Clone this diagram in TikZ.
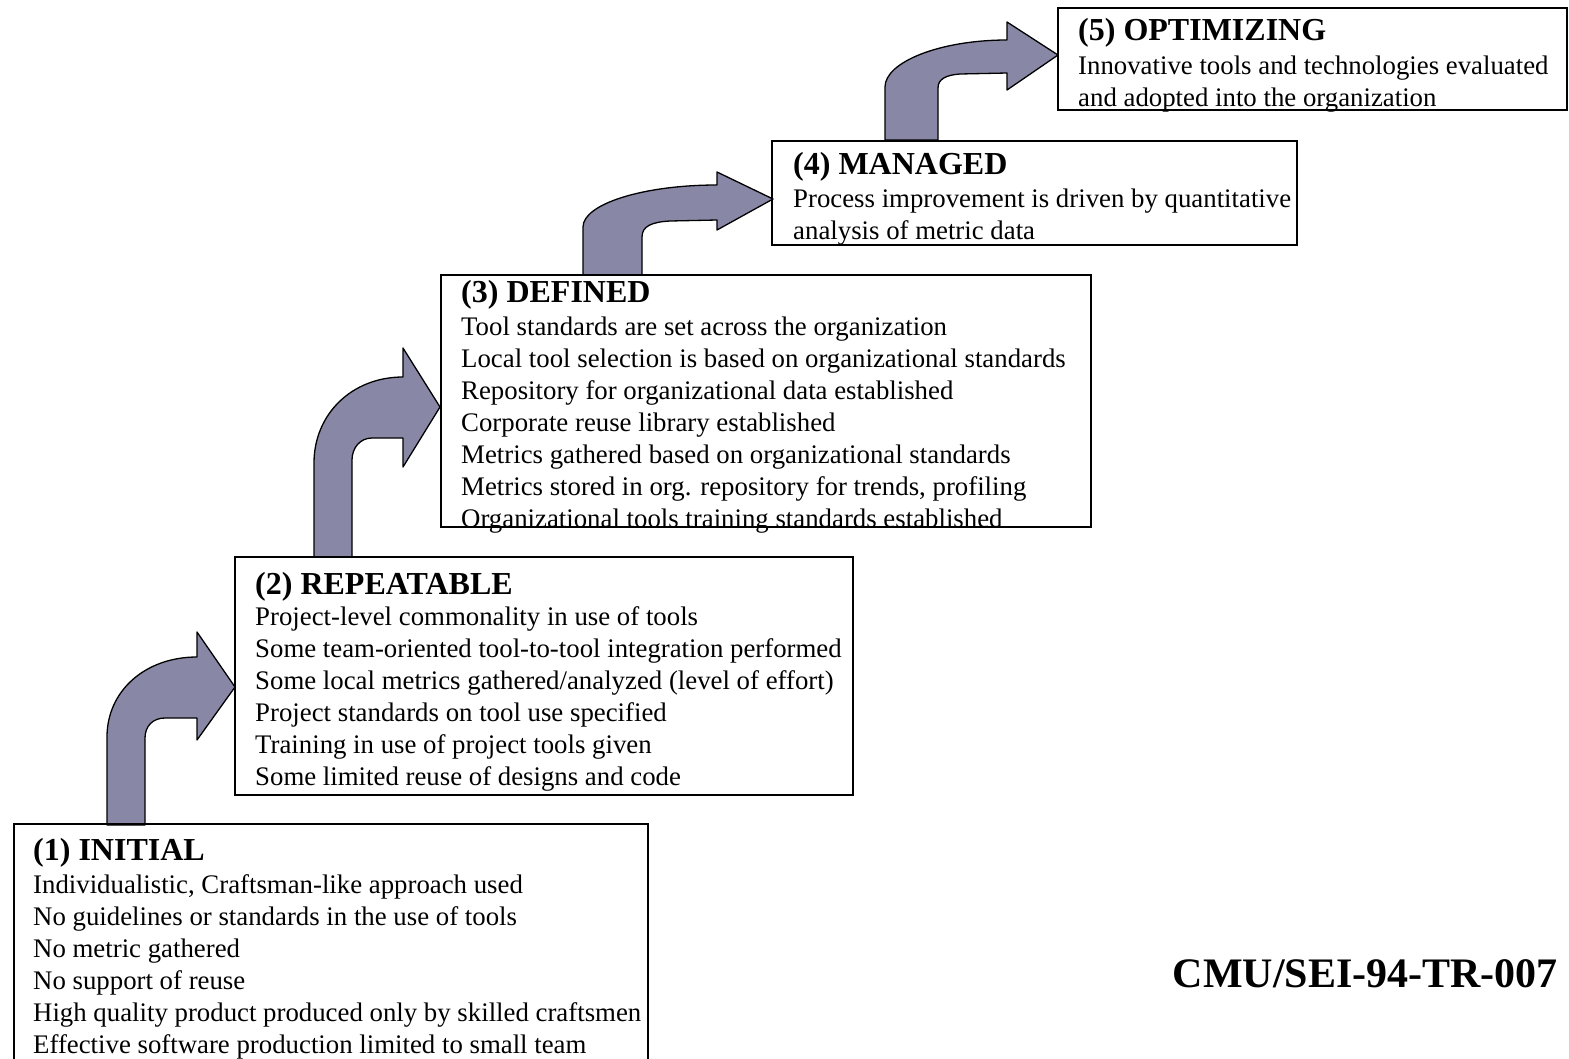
\documentclass[tikz,border=0pt]{standalone}
\usepackage{fontspec}
\setmainfont{Liberation Serif}
\definecolor{arrowfill}{RGB}{136,136,166}
\begin{document}
\begin{tikzpicture}[x=1pt,y=-1pt,
  box/.style={draw, line width=1.6pt, inner sep=0pt, outer sep=0pt, anchor=north west},
  bent/.style={fill=arrowfill, draw=black, line width=1.3pt, line join=round},
  ttl/.style={anchor=base west, inner sep=0pt, font=\fontsize{32}{38}\selectfont\bfseries},
  body/.style={anchor=base west, inner sep=0pt, font=\fontsize{26.8}{32}\selectfont}]
\useasboundingbox (0,0) rectangle (1569,1058);

% bent arrows
\draw[bent] (107,825) -- (107,737) .. controls (107,691) and (145,657) .. (197,657) -- (197,632) -- (235,687) -- (197,740) -- (197,718) -- (165,718) .. controls (153,718) and (145,726) .. (145,738) -- (145,825) -- cycle;
\draw[bent] (314,557) -- (314,463) .. controls (314,414) and (352,377) .. (403,377) -- (403,348) -- (440,407) -- (403,467) -- (403,438) -- (372,438) .. controls (360,438) and (352,448) .. (352,460) -- (352,557) -- cycle;
\draw[bent] (583,275) -- (583,227) .. controls (583,204) and (643,185) .. (717,185) -- (717,172) -- (773,199) -- (717,230) -- (717,220) -- (670,221) .. controls (652,222) and (642,226) .. (642,237) -- (642,275) -- cycle;
\draw[bent] (885,140) -- (885,87) .. controls (885,62) and (940,40) .. (1007,40) -- (1007,22) -- (1058,55) -- (1007,90) -- (1007,73) -- (960,74) .. controls (946,75) and (938,79) .. (938,88) -- (938,140) -- cycle;

% boxes
\draw[line width=1.6pt] (14,1070) -- (14,824) -- (648,824) -- (648,1070);
\node[box, minimum width=618pt, minimum height=238pt] (b2) at (235,557) {};
\node[box, minimum width=650pt, minimum height=252pt] (b3) at (441,275) {};
\node[box, minimum width=525pt, minimum height=104pt] (b4) at (772,141) {};
\node[box, minimum width=509pt, minimum height=102pt] (b5) at (1058,8) {};

% (1) INITIAL
\node[ttl] (t1) at (33,860) {(1) INITIAL};
\node[body] (t1a) at (33,893) {Individualistic, Craftsman-like approach used};
\node[body] (t1b) at (33,925) {No guidelines or standards in the use of tools};
\node[body] (t1c) at (33,957) {No metric gathered};
\node[body] (t1d) at (33,989) {No support of reuse};
\node[body] (t1e) at (33,1021) {High quality product produced only by skilled craftsmen};
\node[body] (t1f) at (33,1053) {Effective software production limited to small team};

% (2) REPEATABLE
\node[ttl] (t2) at (255,594) {(2) REPEATABLE};
\node[body] (t2a) at (255,625) {Project-level commonality in use of tools};
\node[body] (t2b) at (255,657) {Some team-oriented tool-to-tool integration performed};
\node[body] (t2c) at (255,689) {Some local metrics gathered/analyzed (level of effort)};
\node[body] (t2d) at (255,721) {Project standards on tool use specified};
\node[body] (t2e) at (255,753) {Training in use of project tools given};
\node[body] (t2f) at (255,785) {Some limited reuse of designs and code};

% (3) DEFINED
\node[ttl] (t3) at (461,302) {(3) DEFINED};
\node[body] (t3a) at (461,335) {Tool standards are set across the organization};
\node[body] (t3b) at (461,367) {Local tool selection is based on organizational standards};
\node[body] (t3c) at (461,399) {Repository for organizational data established};
\node[body] (t3d) at (461,431) {Corporate reuse library established};
\node[body] (t3e) at (461,463) {Metrics gathered based on organizational standards};
\node[body] (t3f) at (461,495) {Metrics stored in org. repository for trends, profiling};
\node[body] (t3g) at (461,527) {Organizational tools training standards established};

% (4) MANAGED
\node[ttl] (t4) at (793,174) {(4) MANAGED};
\node[body] (t4a) at (793,207) {Process improvement is driven by quantitative};
\node[body] (t4b) at (793,239) {analysis of metric data};

% (5) OPTIMIZING
\node[ttl] (t5) at (1078,40) {(5) OPTIMIZING};
\node[body] (t5a) at (1078,74) {Innovative tools and technologies evaluated};
\node[body] (t5b) at (1078,106) {and adopted into the organization};

% report id
\node[anchor=base east, inner sep=0pt, font=\fontsize{42}{50}\selectfont\bfseries] (rid) at (1558,987) {CMU/SEI-94-TR-007};
\end{tikzpicture}
\end{document}
